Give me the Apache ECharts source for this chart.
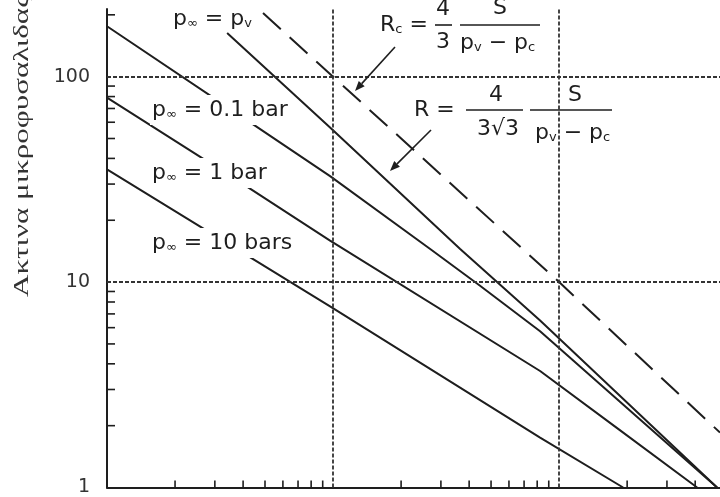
<!DOCTYPE html>
<html>
<head>
<meta charset="utf-8">
<script src="https://cdn.jsdelivr.net/npm/echarts@6/dist/echarts.min.js"></script>
<style>
  html, body { margin: 0; padding: 0; background: #fff; }
  #chart { width: 720px; height: 497px; }
</style>
</head>
<body>
<div id="chart"></div>
<script>
// Curves of bubble radius on log–log axes, one per ambient pressure
const xPv = [3.4, 9.7, 36.5, 82.4, 500];
const yPv = [163, 56.6, 14.5, 6.5, 1];

const x01 = [1, 4.43, 9.7, 26.9, 44.7, 82.4, 500];
const y01 = [176, 58.6, 32.8, 14.5, 9.6, 5.76, 1];

const x1 = [1, 4.0, 9.7, 82.4, 180, 408];
const y1 = [79, 30, 15.9, 3.69, 1.95, 1];

const x10 = [1, 9.7, 82.4, 192];
const y10 = [35.4, 7.61, 1.75, 1];

// critical radius Rc (dashed)
const xRc = [4.9, 10, 100, 515];
const yRc = [204, 100, 10, 1.85];

// axes
const xRange = [1, 515];
const yRange = [1, 213.5];
const yTickLabels = [1, 10, 100];
const gridX = [10, 100];
const gridY = [10, 100];
const xMinorTicks = [2, 3, 4, 5, 6, 7, 8, 9, 20, 30, 40, 50, 60, 70, 80, 90, 200, 300, 400];
const yMinorTicks = [2, 3, 4, 5, 6, 7, 8, 9, 20, 30, 40, 50, 60, 70, 80, 90, 200];

const INK = '#1e1e1e';
const SANS = '"DejaVu Sans", sans-serif';

const pairs = (xs, ys) => xs.map((x, i) => [x, ys[i]]);

function curve(name, xs, ys, dashed) {
  return {
    name: name,
    type: 'line',
    data: pairs(xs, ys),
    showSymbol: false,
    silent: true,
    lineStyle: { color: INK, width: 2, type: dashed ? [24, 12] : 'solid' },
    z: 3
  };
}

// rich-text styles for the annotations
const rich = {
  m: { fontSize: 22, fontFamily: SANS, fill: INK },
  s: { fontSize: 13, fontFamily: SANS, fill: INK, verticalAlign: 'bottom' }
};

function label(x, y, text, bg) {
  return {
    type: 'text', x: x, y: y, z: 20,
    style: {
      text: text, rich: rich, fill: INK,
      font: '22px ' + SANS,
      align: 'left', verticalAlign: 'middle',
      backgroundColor: bg ? '#fff' : null,
      padding: bg ? [4, 2, 4, 2] : 0
    }
  };
}

function plain(x, y, text, size) {
  return {
    type: 'text', x: x, y: y, z: 20,
    style: { text: text, fill: INK, font: (size || 22) + 'px ' + SANS, align: 'center', verticalAlign: 'middle' }
  };
}

function bar(x1, x2, y) {
  return { type: 'line', z: 20, shape: { x1: x1, y1: y, x2: x2, y2: y }, style: { stroke: INK, lineWidth: 1.6 } };
}

function arrow(fx, fy, tx, ty) {
  const dx = tx - fx, dy = ty - fy, len = Math.hypot(dx, dy);
  const ux = dx / len, uy = dy / len, nx = -uy, ny = ux;
  const h = 10, w = 4;
  const bx = tx - ux * h, by = ty - uy * h;
  return [
    { type: 'line', z: 20, shape: { x1: fx, y1: fy, x2: bx, y2: by }, style: { stroke: INK, lineWidth: 1.6 } },
    { type: 'polygon', z: 20, shape: { points: [[tx, ty], [bx + nx * w, by + ny * w], [bx - nx * w, by - ny * w]] }, style: { fill: INK } }
  ];
}

const chart = echarts.init(document.getElementById('chart'), null, { renderer: 'canvas' });

const minorStyle = { stroke: INK, lineWidth: 1.6 };

chart.setOption({
  animation: false,
  backgroundColor: '#fff',
  grid: { left: 107, right: 0, top: 9, bottom: 7, containLabel: false },
  xAxis: {
    type: 'log', logBase: 10, min: xRange[0], max: xRange[1],
    axisLine: { show: true, lineStyle: { color: INK, width: 2 } },
    axisTick: { show: false },
    axisLabel: { show: false },
    splitLine: { show: false }
  },
  yAxis: {
    type: 'log', logBase: 10, min: yRange[0], max: yRange[1],
    axisLine: { show: true, lineStyle: { color: INK, width: 2 } },
    axisTick: { show: false },
    splitLine: { show: false },
    axisLabel: {
      fontFamily: SANS, fontSize: 19, color: '#333', margin: 17,
      formatter: v => (yTickLabels.indexOf(Math.round(v)) >= 0 && Math.abs(v - Math.round(v)) < 1e-6) ? String(Math.round(v)) : ''
    }
  },
  series: [
    Object.assign(curve('p∞ = pv', xPv, yPv, false), {
      markLine: {
        silent: true, symbol: ['none', 'none'], label: { show: false },
        lineStyle: { color: '#333', width: 1.8, type: [4, 2] },
        data: gridX.map(v => ({ xAxis: v })).concat(gridY.map(v => ({ yAxis: v })))
      }
    }),
    curve('p∞ = 0.1 bar', x01, y01, false),
    curve('p∞ = 1 bar', x1, y1, false),
    curve('p∞ = 10 bars', x10, y10, false),
    curve('Rc', xRc, yRc, true),
    {
      type: 'custom', silent: true, z: 4,
      data: yMinorTicks.map(v => [xRange[0], v]),
      encode: { x: 0, y: 1 },
      renderItem: (params, api) => {
        const p = api.coord([api.value(0), api.value(1)]);
        return { type: 'line', shape: { x1: p[0], y1: p[1], x2: p[0] + 8, y2: p[1] }, style: minorStyle };
      }
    },
    {
      type: 'custom', silent: true, z: 4,
      data: xMinorTicks.map(v => [v, yRange[0]]),
      encode: { x: 0, y: 1 },
      renderItem: (params, api) => {
        const p = api.coord([api.value(0), api.value(1)]);
        return { type: 'line', shape: { x1: p[0], y1: p[1], x2: p[0], y2: p[1] - 7 }, style: minorStyle };
      }
    }
  ],
  graphic: [
    // vertical axis title
    {
      type: 'text', x: 22, y: 297, rotation: Math.PI / 2, scaleX: 1.48, z: 20,
      style: { text: 'Ακτινα μικροφυσαλιδας', fill: '#333', font: '21px "Liberation Serif", serif', align: 'left', verticalAlign: 'middle' }
    },
    // curve labels
    label(173, 19, '{m|p}{s|∞}{m| = p}{s|v}', false),
    label(150, 110, '{m|p}{s|∞}{m| = 0.1 bar}', true),
    label(150, 173, '{m|p}{s|∞}{m| = 1 bar}', true),
    label(150, 243, '{m|p}{s|∞}{m| = 10 bars}', true),
    // Rc = 4/3 · S/(pv − pc)
    label(380, 25, '{m|R}{s|c}{m| =}', false),
    plain(443, 9, '4'),
    bar(435, 452, 25),
    plain(443, 42, '3'),
    plain(500, 8, 'S'),
    bar(460, 540, 25),
    label(460, 43, '{m|p}{s|v}{m| − p}{s|c}', false),
    // R = 4/(3√3) · S/(pv − pc)
    label(414, 110, '{m|R =}', false),
    plain(496, 95, '4'),
    bar(466, 523, 110),
    plain(498, 129, '3√3'),
    plain(575, 95, 'S'),
    bar(530, 612, 110),
    label(535, 133, '{m|p}{s|v}{m| − p}{s|c}', false)
  ].concat(arrow(395, 47, 355, 91)).concat(arrow(431, 130, 390, 171))
});
</script>
</body>
</html>
